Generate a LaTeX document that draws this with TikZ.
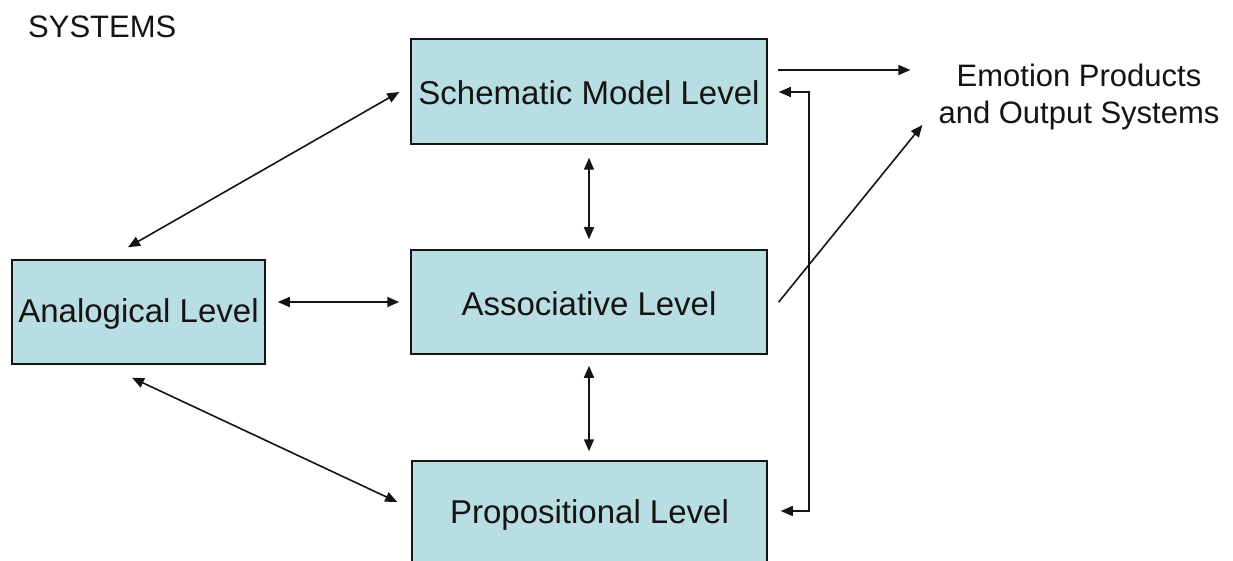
\documentclass[tikz,border=0pt]{standalone}
\usepackage{fontspec}
\setmainfont{Liberation Sans}
\usetikzlibrary{arrows.meta,calc}
\definecolor{boxfill}{RGB}{184,222,227}
\definecolor{ink}{RGB}{20,20,20}
\tikzset{
  levelbox/.style={draw=ink, line width=1.5pt, fill=boxfill, inner sep=0pt,
    font=\fontsize{33}{40}\selectfont, text=ink},
  tip/.style={Triangle[length=12pt,width=10pt]},
  link/.style={draw=ink, line width=1.6pt, {Triangle[length=12pt,width=10pt]}-{Triangle[length=12pt,width=10pt]}},
  onelink/.style={draw=ink, line width=1.6pt, -{Triangle[length=12pt,width=10pt]}},
  plain/.style={inner sep=0pt, text=ink}
}
\begin{document}
\begin{tikzpicture}[x=1pt,y=-1pt]
\clip (0,0) rectangle (1233,561);
\fill[white] (0,0) rectangle (1233,561);
\node[plain, anchor=base west, font=\fontsize{31}{36}\selectfont] (sys) at (28,38) {SYSTEMS};
\node[levelbox, minimum width=356pt, minimum height=105pt, text height=27pt] (sch) at (589,91.5) {Schematic Model Level};
\node[levelbox, minimum width=253pt, minimum height=104pt, text height=27pt] (ana) at (138.5,312) {Analogical Level};
\node[levelbox, minimum width=356pt, minimum height=104pt, text height=27pt] (asso) at (589,302) {Associative Level};
\node[levelbox, minimum width=355pt, minimum height=105pt, text height=27pt] (prop) at (589.5,513.5) {Propositional Level};
\node[plain, align=center, font=\fontsize{31}{37}\selectfont] (emo) at (1079,97) {Emotion Products\\and Output Systems};
\coordinate (loopA) at (809,92);
\coordinate (loopB) at (809,511);
% connectors
\draw[link] ($(ana.north)+(-10.5,-12)$) -- ($(sch.west)+(-11,0.5)$);
\draw[link] ($(ana.east)+(12,-10)$) -- ($(asso.west)+(-11,0)$);
\draw[link] ($(sch.south)+(0,13)$) -- ($(asso.north)+(0,-10)$);
\draw[link] ($(asso.south)+(0,11)$) -- ($(prop.north)+(-0.5,-9)$);
\draw[link] ($(ana.south)+(-6.5,13)$) -- ($(prop.west)+(-14,-11.5)$);
\draw[onelink] ($(sch.east)+(10,-21.5)$) -- ($(emo.west)+(-28,-27)$);
\draw[onelink] ($(asso.east)+(11,0)$) -- ($(emo.west)+(-16,28)$);
\draw[link] ($(sch.east)+(11,0.5)$) -- (loopA) -- (loopB) -- ($(prop.east)+(13,-2.5)$);
\end{tikzpicture}
\end{document}
